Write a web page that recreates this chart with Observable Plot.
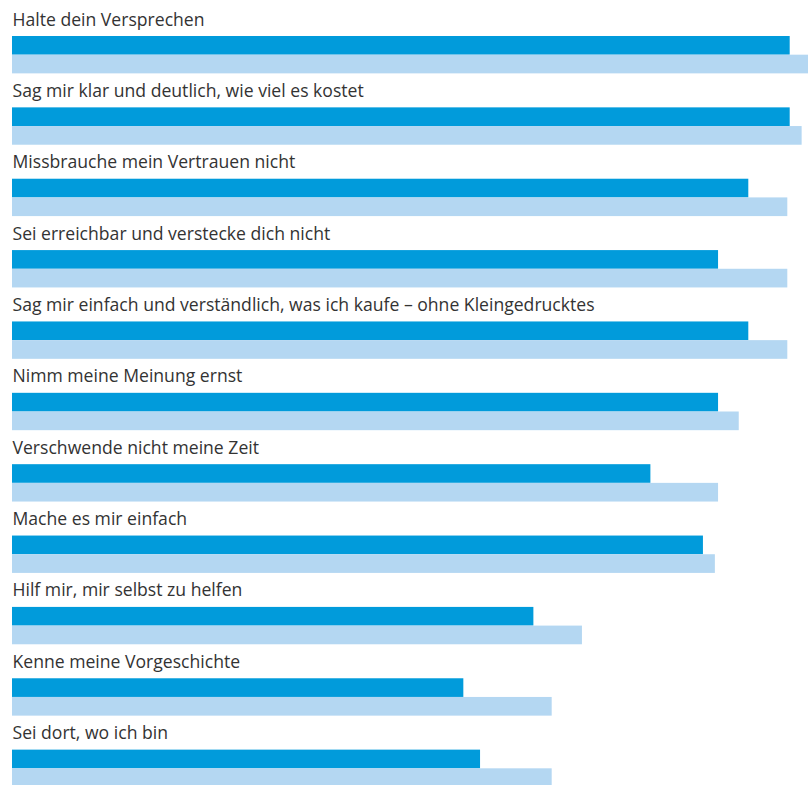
<!DOCTYPE html>
<html><head><meta charset="utf-8">
<script src="https://cdn.jsdelivr.net/npm/d3@7"></script>
<script src="https://cdn.jsdelivr.net/npm/@observablehq/plot@0.6"></script>
<style>
html,body{margin:0;padding:0;overflow:hidden;background:#fff;}
</style></head>
<body><div id="chart"></div>
<script>
const categories = [
  "Halte dein Versprechen",
  "Sag mir klar und deutlich, wie viel es kostet",
  "Missbrauche mein Vertrauen nicht",
  "Sei erreichbar und verstecke dich nicht",
  "Sag mir einfach und verständlich, was ich kaufe – ohne Kleingedrucktes",
  "Nimm meine Meinung ernst",
  "Verschwende nicht meine Zeit",
  "Mache es mir einfach",
  "Hilf mir, mir selbst zu helfen",
  "Kenne meine Vorgeschichte",
  "Sei dort, wo ich bin"
];
const seriesNames = ["A", "B"];
const valuesA = [97.7, 97.7, 92.5, 88.7, 92.5, 88.7, 80.2, 86.8, 65.5, 56.7, 58.8];
const valuesB = [100, 99.2, 97.4, 97.4, 97.4, 91.3, 88.7, 88.3, 71.6, 67.8, 67.8];
const colors = ["#019bdb", "#b4d7f2"];

const data = categories.flatMap((c, i) => [
  {category: c, series: seriesNames[0], value: valuesA[i]},
  {category: c, series: seriesNames[1], value: valuesB[i]}
]);

const chart = Plot.plot({
  width: 808,
  height: 787,
  marginTop: 2,
  marginBottom: 0,
  marginLeft: 12,
  marginRight: 0,
  style: {fontFamily: "'Open Sans', sans-serif", background: "#fff"},
  x: {domain: [0, 100], axis: null},
  y: {domain: seriesNames, axis: null, paddingInner: 0, paddingOuter: 0, insetTop: 34, round: false},
  fy: {domain: categories, axis: null, padding: 0, round: false},
  color: {domain: seriesNames, range: colors},
  marks: [
    Plot.barX(data, {fy: "category", y: "series", x: "value", fill: "series"}),
    Plot.text(categories, {
      fy: d => d, text: d => d, x: 0,
      frameAnchor: "top", textAnchor: "start", lineAnchor: "bottom",
      dy: 23, fontSize: 17.6, fill: "#333"
    })
  ]
});
document.getElementById("chart").appendChild(chart);
</script>
</body></html>
